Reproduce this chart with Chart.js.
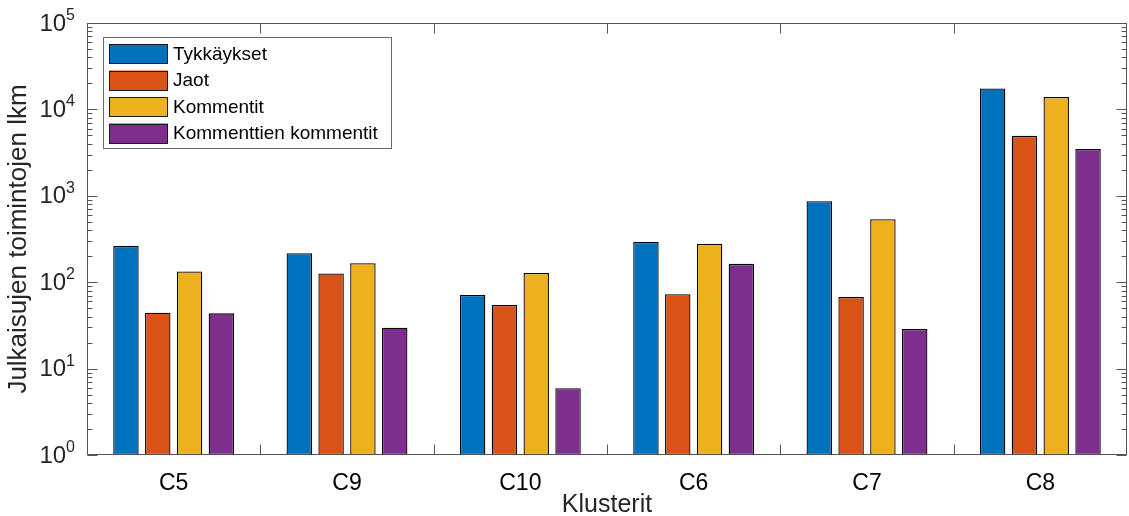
<!DOCTYPE html>
<html>
<head>
<meta charset="utf-8">
<script src="https://cdn.jsdelivr.net/npm/chart.js@4"></script>
<style>
  html, body { margin: 0; padding: 0; background: #fff; }
  canvas { display: block; }
</style>
</head>
<body>
<canvas id="chart" width="1129" height="516"></canvas>
<script>
const categories = ['C5', 'C9', 'C10', 'C6', 'C7', 'C8'];
const seriesNames = ['Tykkäykset', 'Jaot', 'Kommentit', 'Kommenttien kommentit'];
const tykkaykset = [262, 216, 71, 292, 865, 17500];
const jaot = [44.4, 126, 54.4, 72.4, 67.4, 4940];
const kommentit = [133, 166, 128, 277, 535, 13900];
const kommenttienKommentit = [43.6, 29.8, 5.94, 163, 28.7, 3490];
const yTickValues = [1, 10, 100, 1000, 10000, 100000];
const yTickExponents = ['0', '1', '2', '3', '4', '5'];

const colors = ['#0072BD', '#D95319', '#EDB120', '#7E2F8E'];
const axisColor = '#555555';
const fontFamily = '"Liberation Sans", Arial, sans-serif';

Chart.defaults.font.family = fontFamily;
Chart.defaults.color = '#262626';

// box, inward ticks, 10^n labels and the legend inside the axes
const matlabAxes = {
    id: 'matlabAxes',
    afterDraw(chart) {
        const ctx = chart.ctx;
        const area = chart.chartArea;
        const x = chart.scales.x;
        const y = chart.scales.y;
        const L = area.left + 0.5, R = area.right - 0.5;
        const T = area.top + 0.5, B = area.bottom - 0.5;

        ctx.save();
        ctx.strokeStyle = axisColor;
        ctx.lineWidth = 1;
        ctx.strokeRect(L, T, R - L, B - T);

        // y ticks, major and minor, on both sides
        ctx.beginPath();
        yTickValues.forEach((v, i) => {
            const py = Math.round(y.getPixelForValue(v)) + 0.5;
            ctx.moveTo(L, py); ctx.lineTo(L + 10, py);
            ctx.moveTo(R, py); ctx.lineTo(R - 10, py);
            if (i < yTickValues.length - 1) {
                for (let m = 2; m <= 9; m++) {
                    const my = Math.round(y.getPixelForValue(v * m)) + 0.5;
                    ctx.moveTo(L, my); ctx.lineTo(L + 5, my);
                    ctx.moveTo(R, my); ctx.lineTo(R - 5, my);
                }
            }
        });
        // x ticks between the groups
        for (let i = 0; i < categories.length - 1; i++) {
            const px = Math.round((x.getPixelForValue(i) + x.getPixelForValue(i + 1)) / 2) + 0.5;
            ctx.moveTo(px, B); ctx.lineTo(px, B - 10);
            ctx.moveTo(px, T); ctx.lineTo(px, T + 10);
        }
        ctx.stroke();

        // y tick labels as 10 with a raised exponent
        ctx.fillStyle = '#262626';
        yTickValues.forEach((v, i) => {
            const py = y.getPixelForValue(v);
            ctx.font = '24px ' + fontFamily;
            const w10 = ctx.measureText('10').width;
            ctx.font = '16px ' + fontFamily;
            const we = ctx.measureText(yTickExponents[i]).width;
            const x0 = area.left - 12 - we - w10;
            ctx.font = '24px ' + fontFamily;
            ctx.textAlign = 'left';
            ctx.textBaseline = 'middle';
            ctx.fillText('10', x0, py + 1);
            ctx.font = '16px ' + fontFamily;
            ctx.textBaseline = 'alphabetic';
            ctx.fillText(yTickExponents[i], x0 + w10, py - 3);
        });

        // legend
        const lx = area.left + 16, ly = area.top + 14;
        const lw = 288, lh = 111;
        ctx.fillStyle = '#ffffff';
        ctx.fillRect(lx, ly, lw, lh);
        ctx.strokeStyle = '#6a6a6a';
        ctx.strokeRect(lx + 0.5, ly + 0.5, lw, lh);
        ctx.font = '19px ' + fontFamily;
        ctx.textBaseline = 'middle';
        chart.data.datasets.forEach((ds, i) => {
            const sy = ly + 7 + i * 26.5;
            ctx.fillStyle = ds.backgroundColor;
            ctx.fillRect(lx + 6, sy, 59, 20);
            ctx.strokeStyle = '#1a1a1a';
            ctx.strokeRect(lx + 6.5, Math.round(sy) + 0.5, 58, 19);
            ctx.fillStyle = '#000000';
            ctx.fillText(ds.label, lx + 70, sy + 10.5);
        });
        ctx.restore();
    }
};

const allSeries = [tykkaykset, jaot, kommentit, kommenttienKommentit];

const data = {
    labels: categories,
    datasets: seriesNames.map((name, i) => ({
        label: name,
        data: allSeries[i],
        backgroundColor: colors[i],
        borderColor: '#000000',
        borderWidth: 1.3,
        borderSkipped: false,
        categoryPercentage: 0.734,
        barPercentage: 0.80,
    }))
};

const options = {
    responsive: false,
    animation: false,
    devicePixelRatio: 1,
    layout: { padding: { top: 23, right: 2, left: 0, bottom: 0 } },
    plugins: { legend: { display: false }, tooltip: { enabled: false } },
    scales: {
        x: {
            type: 'category',
            offset: true,
            grid: { display: false },
            border: { display: false },
            ticks: { font: { size: 23, lineHeight: 1 }, padding: 9, maxRotation: 0, color: '#000' },
            title: { display: true, text: 'Klusterit', font: { size: 25, lineHeight: 1 }, padding: { top: 0, bottom: -2 }, color: '#262626' },
            afterFit: s => { s.height = 61; }
        },
        y: {
            type: 'logarithmic',
            min: 1,
            max: 100000,
            grid: { display: false },
            border: { display: false },
            ticks: { display: false },
            title: { display: true, text: 'Julkaisujen toimintojen lkm', font: { size: 26, lineHeight: 1 }, padding: { top: 6, bottom: 0 }, color: '#262626' },
            afterFit: s => { s.width = 87; }
        }
    }
};

new Chart(document.getElementById('chart'), { type: 'bar', data: data, options: options, plugins: [matlabAxes] });
</script>
</body>
</html>
